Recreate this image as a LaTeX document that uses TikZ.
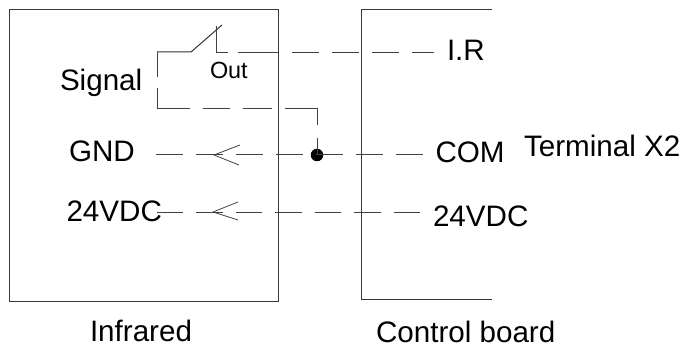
\documentclass[tikz,border=0pt]{standalone}
\usepackage{fontspec}
\setmainfont{Liberation Sans}
\definecolor{wire}{gray}{0.25}
\definecolor{frameline}{gray}{0.22}
\tikzset{
  lbl/.style={inner sep=0pt,outer sep=0pt,anchor=base west,font=\fontsize{29.6}{30}\selectfont,text=black},
  lblsmall/.style={lbl,font=\fontsize{23.4}{24}\selectfont},
  frameline/.style={draw=frameline,line width=1pt},
  wireline/.style={draw=wire,line width=1pt},
  dashwire/.style={wireline,dash pattern=on 27pt off 13pt},
  chevron/.style={draw=black!75,line width=0.8pt}
}
\begin{document}
\begin{tikzpicture}[x=1pt,y=-1pt]
\useasboundingbox (0,0) rectangle (684,347);
% frames
\node[frameline,rectangle,inner sep=0pt,outer sep=0pt,anchor=north west,minimum width=268.5pt,minimum height=292pt] (infra) at (9.5,9.5) {};
\coordinate (ct1) at (492,9.5);
\coordinate (ct2) at (361.5,9.5);
\coordinate (ct3) at (361.5,299);
\coordinate (ct4) at (492,299);
\draw[frameline] (ct1) -- (ct2) -- (ct3) -- (ct4);
% labels
\node[lbl] (sig) at (60,91) {Signal};
\node[lblsmall] (out) at (210,79) {Out};
\node[lbl] (gnd) at (69,161.5) {GND};
\node[lbl] (vl) at (66.5,222) {24VDC};
\node[lbl] (ir) at (447,61) {I.R};
\node[lbl] (com) at (435.5,163) {COM};
\node[lbl] (term) at (524,157) {Terminal X2};
\node[lbl] (vr) at (433,226) {24VDC};
\node[lbl] (inf) at (90,341) {Infrared};
\node[lbl] (ctrl) at (376,342) {Control board};
% switch
\coordinate (swa) at (157,52);
\coordinate (swb) at (191,52);
\coordinate (swc) at (222,25);
\coordinate (swd) at (216,26);
\coordinate (swe) at (216,53);
\coordinate (irend) at (434,53);
\draw[wireline,draw=black!80] (swa) -- (swb) -- (swc);
\draw[wireline] (swd) -- (swe);
\draw[wireline,dash pattern=on 12pt off 10pt on 40pt off 14pt on 27pt off 13pt on 27pt off 13pt on 27pt off 13pt on 27pt off 13pt] (swe) -- (irend);
% return loop
\coordinate (la) at (157,108.5);
\coordinate (lb) at (317,108.5);
\node[circle,fill=black,inner sep=0pt,minimum size=12.5pt] (dot) at (317,155) {};
\draw[wireline,dash pattern=on 25pt off 11pt on 53pt off 13pt on 27pt off 13pt on 29pt off 13pt on 49pt off 13pt on 17pt off 100pt] (swa) -- (la) -- (lb) -- (dot.center);
% GND line
\coordinate (ga) at (156,155);
\coordinate (gb) at (423,155);
\draw[dashwire] (ga) -- (gb);
\coordinate (gt) at (214,155);
\coordinate (gu) at (240,145);
\coordinate (gl) at (239,165);
\draw[chevron] (gu) -- (gt) -- (gl);
% 24V line
\coordinate (va) at (157,212);
\coordinate (vb) at (422,212);
\draw[wireline,dash pattern=on 26pt off 13pt on 27pt off 13pt] (va) -- (vb);
\coordinate (vt) at (213,212);
\coordinate (vu) at (238,202);
\coordinate (vl2) at (238,220);
\draw[chevron] (vu) -- (vt) -- (vl2);
\end{tikzpicture}
\end{document}
